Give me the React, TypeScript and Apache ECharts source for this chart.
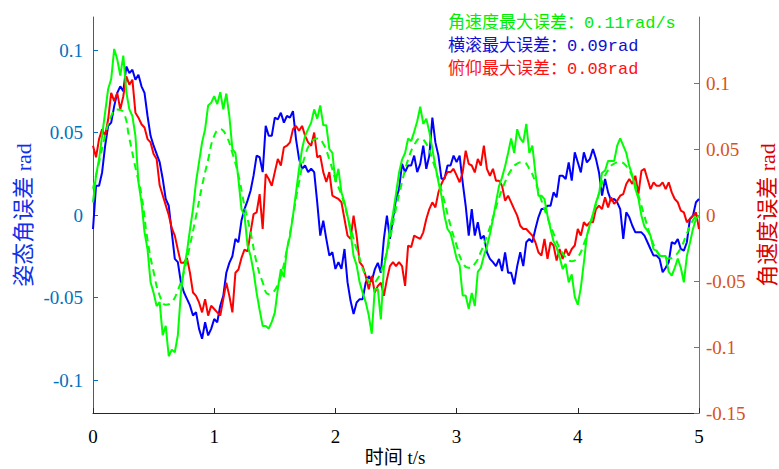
import React, { useEffect, useRef } from "react";
import * as echarts from "echarts";

// sample step of the three noisy error series (s)
const STEP = 0.025;
// sample step of the smooth (dashed) angular-velocity reference (s)
const STEP_SMOOTH = 0.05;

const xTicks = [0, 1, 2, 3, 4, 5];
const leftTicks = [-0.1, -0.05, 0, 0.05, 0.1];
const rightTicks = [-0.15, -0.1, -0.05, 0, 0.05, 0.1];

const legendLines = [
  "角速度最大误差：0.11rad/s",
  "横滚最大误差：0.09rad",
  "俯仰最大误差：0.08rad",
];

// roll error (rad), left axis
const roll = [
  -0.0085, 0.0177, 0.0177, 0.0258, 0.0419, 0.054, 0.056, 0.066, 0.074, 0.078,
  0.075, 0.09, 0.086, 0.088, 0.082, 0.085, 0.078, 0.074, 0.06, 0.048,
  0.042, 0.037, 0.032, 0.022, 0.0097, 0.0056, -0.0105, -0.0266, -0.0286, -0.0407,
  -0.0468, -0.0508, -0.0548, -0.0609, -0.0589, -0.069, -0.075, -0.065, -0.073, -0.069,
  -0.063, -0.065, -0.055, -0.049, -0.035, -0.029, -0.025, -0.0145, -0.0165, -0.0034,
  0.0036, 0.0087, 0.0147, 0.024, 0.036, 0.035, 0.026, 0.054, 0.048, 0.048,
  0.059, 0.058, 0.062, 0.056, 0.06, 0.059, 0.063, 0.046, 0.034, 0.028,
  0.03, 0.026, 0.028, 0.026, 0.0077, -0.0125, -0.0034, -0.0145, -0.0246, -0.0226,
  -0.0327, -0.0286, -0.0327, -0.0206, -0.0407, -0.052, -0.06, -0.053, -0.051, -0.051,
  -0.041, -0.037, -0.04, -0.033, -0.029, -0.035, -0.0145, -0.0004, -0.0145, -0.0024,
  0.0097, 0.0157, 0.031, 0.026, 0.03, 0.03, 0.036, 0.026, 0.031, 0.042,
  0.028, 0.036, 0.059, 0.044, 0.036, 0.022, 0.022, 0.03, 0.03, 0.036,
  0.032, 0.036, 0.0198, 0.0056, -0.0125, 0.0036, -0.0125, -0.0044, -0.0145, -0.0125,
  -0.0226, -0.0266, -0.0286, -0.031, -0.0266, -0.034, -0.0226, -0.035, -0.035, -0.042,
  -0.031, -0.0226, -0.031, -0.0165, -0.0145, -0.0165, -0.0085, -0.0014, 0.0036, 0.0036,
  0.0056, 0.0056, 0.0137, 0.0107, 0.0238, 0.0238, 0.0218, 0.0319, 0.0208, 0.038,
  0.032, 0.0258, 0.038, 0.0319, 0.034, 0.04, 0.034, 0.0258, 0.0117, 0.0218,
  0.0137, 0.0087, 0.0097, 0.0077, 0.0036, -0.0145, 0.0016, -0.0014, -0.0065, -0.0105,
  -0.0105, -0.0105, -0.0125, -0.0165, -0.0206, -0.0246, -0.0246, -0.0266, -0.0347, -0.032,
  -0.0286, -0.0165, -0.0175, -0.0145, -0.0206, -0.0216, -0.0165, -0.0024, -0.0004, 0.0077,
  0.0097,
];

// pitch error (rad), left axis
const pitch = [
  0.042, 0.035, 0.046, 0.052, 0.048, 0.058, 0.074, 0.069, 0.074, 0.064,
  0.072, 0.084, 0.079, 0.082, 0.062, 0.059, 0.055, 0.053, 0.046, 0.044,
  0.037, 0.034, 0.018, 0.012, 0.006, 0.0, -0.008, -0.0125, -0.021, -0.029,
  -0.029, -0.026, -0.035, -0.047, -0.049, -0.053, -0.059, -0.051, -0.061, -0.055,
  -0.057, -0.059, -0.061, -0.051, -0.041, -0.049, -0.059, -0.035, -0.033, -0.026,
  -0.021, -0.022, -0.0105, 0.0006, 0.0016, 0.0127, -0.0085, 0.0248, 0.0218, 0.0177,
  0.026, 0.034, 0.03, 0.041, 0.042, 0.044, 0.052, 0.054, 0.051, 0.054,
  0.048, 0.044, 0.042, 0.05, 0.035, 0.036, 0.026, 0.02, 0.026, 0.0117,
  0.0107, 0.0097, 0.0077, -0.0024, -0.0125, -0.0145, -0.0004, -0.0125, -0.0286, -0.031,
  -0.037, -0.045, -0.037, -0.047, -0.043, -0.041, -0.049, -0.039, -0.031, -0.0286,
  -0.031, -0.0286, -0.031, -0.043, -0.0185, -0.0195, -0.0125, -0.0135, -0.0145, -0.0105,
  -0.0024, 0.0036, 0.0077, 0.0046, 0.0137, 0.0188, 0.0228, 0.026, 0.026, 0.028,
  0.024, 0.0198, 0.0258, 0.039, 0.031, 0.03, 0.0258, 0.034, 0.03, 0.042,
  0.028, 0.0238, 0.028, 0.0208, 0.0208, 0.0177, 0.0087, 0.0117, 0.0077, 0.0036,
  -0.0004, -0.0065, -0.0085, -0.0085, -0.0105, -0.0125, -0.0165, -0.0226, -0.0246, -0.0145,
  -0.0266, -0.0165, -0.0185, -0.0276, -0.0206, -0.0266, -0.0206, -0.0246, -0.0206, -0.0185,
  -0.0085, -0.0125, -0.0044, -0.0065, -0.0044, -0.0044, 0.0036, 0.0056, 0.0036, 0.0107,
  0.0046, 0.0107, 0.0067, 0.0087, 0.0117, 0.0127, 0.0188, 0.0218, 0.0188, 0.0238,
  0.0127, 0.0268, 0.028, 0.0218, 0.0157, 0.0198, 0.0177, 0.0177, 0.0198, 0.0157,
  0.0198, 0.0137, 0.0097, 0.0077, 0.0026, 0.0016, -0.0044, -0.0024, -0.0004, 0.0016,
  -0.0085,
];

// angular-velocity error (rad/s), right axis
const rate = [
  0.0096, 0.0298, 0.0424, 0.0601, 0.0778, 0.0955, 0.103, 0.1258, 0.118, 0.1056,
  0.1207, 0.093, 0.08, 0.075, 0.06, 0.025, 0.0096, -0.013, -0.026, -0.051,
  -0.059, -0.069, -0.066, -0.091, -0.084, -0.107, -0.102, -0.104, -0.091, -0.059,
  -0.041, -0.028, -0.011, 0.0045, 0.025, 0.04, 0.055, 0.065, 0.083, 0.085,
  0.09, 0.084, 0.093, 0.08, 0.092, 0.075, 0.05, 0.047, 0.027, 0.0045,
  -0.0005, -0.023, -0.031, -0.043, -0.059, -0.072, -0.084, -0.084, -0.086, -0.081,
  -0.074, -0.056, -0.041, -0.047, -0.026, -0.016, -0.0005, 0.017, 0.035, 0.05,
  0.06, 0.065, 0.07, 0.08, 0.073, 0.083, 0.068, 0.068, 0.05, 0.047,
  0.025, 0.035, 0.017, 0.0096, -0.0005, -0.013, -0.031, -0.038, -0.051, -0.059,
  -0.066, -0.076, -0.09, -0.056, -0.056, -0.079, -0.04, -0.028, -0.0106, 0.0008,
  0.016, 0.032, 0.042, 0.047, 0.058, 0.056, 0.063, 0.071, 0.082, 0.069,
  0.073, 0.063, 0.05, 0.037, 0.025, 0.0146, -0.0005, -0.0106, -0.0139, -0.023,
  -0.033, -0.038, -0.061, -0.061, -0.071, -0.059, -0.069, -0.043, -0.04, -0.031,
  -0.024, -0.0144, -0.003, 0.0096, 0.022, 0.0285, 0.037, 0.047, 0.058, 0.047,
  0.065, 0.058, 0.055, 0.069, 0.047, 0.0525, 0.032, 0.0146, 0.0146, 0.012,
  -0.0005, -0.0106, -0.02, -0.0245, -0.032, -0.041, -0.037, -0.051, -0.045, -0.062,
  -0.068, -0.055, -0.036, -0.0157, -0.0068, 0.0008, 0.0096, 0.016, 0.032, 0.0336,
  0.041, 0.041, 0.041, 0.0525, 0.058, 0.0525, 0.047, 0.037, 0.03, 0.0197,
  0.0126, -0.0005, -0.0088, -0.0119, -0.0157, -0.026, -0.027, -0.031, -0.031, -0.031,
  -0.043, -0.046, -0.04, -0.033, -0.04, -0.051, -0.031, -0.021, -0.0106, -0.003,
  -0.0005,
];

// smooth angular-velocity curve (rad/s), right axis, dashed
const rateSmooth = [
  0.02, 0.04, 0.06, 0.075, 0.08, 0.078, 0.058, 0.036, 0.015, -0.019,
  -0.043, -0.061, -0.068, -0.066, -0.057, -0.043, -0.023, -0.001, 0.022, 0.042,
  0.06, 0.065, 0.06, 0.047, 0.03, 0.007, -0.013, -0.036, -0.051, -0.06,
  -0.057, -0.046, -0.026, -0.001, 0.025, 0.045, 0.055, 0.058, 0.054, 0.042,
  0.027, 0.015, -0.001, -0.018, -0.033, -0.046, -0.052, -0.048, -0.036, -0.018,
  0.005, 0.025, 0.042, 0.053, 0.058, 0.054, 0.042, 0.027, 0.01, -0.008,
  -0.023, -0.036, -0.04, -0.037, -0.028, -0.016, -0.002, 0.013, 0.025, 0.034,
  0.039, 0.04, 0.035, 0.025, 0.011, -0.002, -0.014, -0.025, -0.032, -0.035,
  -0.032, -0.022, -0.008, 0.008, 0.024, 0.034, 0.039, 0.04, 0.037, 0.029,
  0.015, -0.001, -0.016, -0.027, -0.032, -0.033, -0.031, -0.025, -0.014, -0.004,
  0.002,
];

const toPairs = (vals: number[], step: number) =>
  vals.map((v, i) => [+(i * step).toFixed(4), v]);

const SERIF = "'Liberation Serif', 'Times New Roman', 'Noto Sans CJK SC', serif";
const MONO_CJK = "'Liberation Mono', 'Noto Sans CJK SC', monospace";

export default function App() {
  const ref = useRef<HTMLDivElement>(null);

  useEffect(() => {
    if (!ref.current) return;
    const chart = echarts.init(ref.current, undefined, { renderer: "svg" });

    const leftColor = "#0072BD";
    const rightColor = "#D95319";
    const axisFont = { fontFamily: SERIF, fontSize: 19 };

    chart.setOption({
      animation: false,
      backgroundColor: "#ffffff",
      grid: { left: 93, right: 80, top: 17, bottom: 56, containLabel: false },
      xAxis: {
        type: "value",
        min: 0,
        max: 5,
        interval: 1,
        axisLine: { show: true, onZero: false, lineStyle: { color: "#262626", width: 1 } },
        axisTick: { show: true, inside: true, length: 5, lineStyle: { color: "#262626" } },
        axisLabel: {
          ...axisFont,
          color: "#000000",
          margin: 14,
          customValues: xTicks,
        },
        splitLine: { show: false },
      },
      yAxis: [
        {
          type: "value",
          position: "left",
          min: -0.12,
          max: 0.12,
          axisLine: { show: true, onZero: false, lineStyle: { color: leftColor, width: 1 } },
          axisTick: {
            show: true,
            inside: true,
            length: 5,
            customValues: leftTicks,
            lineStyle: { color: leftColor },
          },
          axisLabel: {
            ...axisFont,
            color: leftColor,
            margin: 10,
            customValues: leftTicks,
          },
          splitLine: { show: false },
        },
        {
          type: "value",
          position: "right",
          min: -0.15,
          max: 0.15,
          axisLine: { show: true, onZero: false, lineStyle: { color: rightColor, width: 1 } },
          axisTick: {
            show: true,
            inside: true,
            length: 5,
            customValues: rightTicks,
            lineStyle: { color: rightColor },
          },
          axisLabel: {
            ...axisFont,
            color: rightColor,
            margin: 7,
            customValues: rightTicks,
          },
          splitLine: { show: false },
        },
      ],
      series: [
        {
          name: "横滚",
          type: "line",
          yAxisIndex: 0,
          data: toPairs(roll, STEP),
          showSymbol: false,
          symbol: "none",
          lineStyle: { color: "#0000ff", width: 2 },
          z: 2,
        },
        {
          name: "俯仰",
          type: "line",
          yAxisIndex: 0,
          data: toPairs(pitch, STEP),
          showSymbol: false,
          symbol: "none",
          lineStyle: { color: "#ff0000", width: 2 },
          z: 3,
        },
        {
          name: "角速度参考",
          type: "line",
          yAxisIndex: 1,
          data: toPairs(rateSmooth, STEP_SMOOTH),
          showSymbol: false,
          symbol: "none",
          smooth: true,
          lineStyle: { color: "#00ff00", width: 2, type: [7, 5] },
          z: 4,
        },
        {
          name: "角速度",
          type: "line",
          yAxisIndex: 1,
          data: toPairs(rate, STEP),
          showSymbol: false,
          symbol: "none",
          lineStyle: { color: "#00ff00", width: 2 },
          z: 5,
        },
      ],
      graphic: [
        {
          type: "text",
          left: 448,
          top: 15,
          style: { text: legendLines[0], fill: "#00ee00", font: `17px ${MONO_CJK}` },
        },
        {
          type: "text",
          left: 448,
          top: 38,
          style: { text: legendLines[1], fill: "#1010d0", font: `17px ${MONO_CJK}` },
        },
        {
          type: "text",
          left: 448,
          top: 61,
          style: { text: legendLines[2], fill: "#ff1010", font: `17px ${MONO_CJK}` },
        },
        {
          type: "text",
          x: 23,
          y: 215,
          rotation: Math.PI / 2,
          style: {
            text: "姿态角误差 rad",
            fill: "#1030e8",
            font: `22px ${SERIF}`,
            align: "center",
            verticalAlign: "middle",
          },
        },
        {
          type: "text",
          x: 767,
          y: 215,
          rotation: Math.PI / 2,
          style: {
            text: "角速度误差 rad",
            fill: "#d80000",
            font: `22px ${SERIF}`,
            align: "center",
            verticalAlign: "middle",
          },
        },
        {
          type: "text",
          x: 395,
          y: 457,
          style: {
            text: "时间 t/s",
            fill: "#000000",
            font: `19px ${SERIF}`,
            align: "center",
            verticalAlign: "middle",
          },
        },
      ],
    });

    return () => chart.dispose();
  }, []);

  return (
    <div
      ref={ref}
      style={{ position: "absolute", left: 0, top: 0, width: 779, height: 469 }}
    />
  );
}
